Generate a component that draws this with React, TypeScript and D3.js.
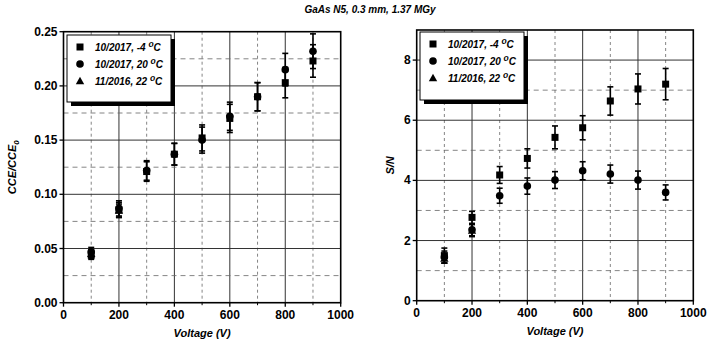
import * as d3 from 'd3';
import React from 'react';

// voltages (V)
const voltages = [100, 200, 300, 400, 500, 600, 700, 800, 900];
const voltages2016 = [100, 200];

// CCE/CCE0
const cceM4 = [0.044, 0.0855, 0.121, 0.137, 0.152, 0.170, 0.190, 0.203, 0.223];
const cceM4Err = [0.004, 0.007, 0.009, 0.010, 0.012, 0.013, 0.013, 0.014, 0.015];
const cce20 = [0.047, 0.087, 0.122, 0.137, 0.150, 0.172, 0.190, 0.215, 0.232];
const cce20Err = [0.004, 0.007, 0.009, 0.010, 0.012, 0.013, 0.013, 0.015, 0.016];
const cce22 = [0.045, 0.085];
const cce22Err = [0.004, 0.006];

// S/N
const snM4 = [1.5, 2.77, 4.18, 4.73, 5.43, 5.75, 6.64, 7.04, 7.2];
const snM4Err = [0.25, 0.2, 0.28, 0.32, 0.38, 0.4, 0.47, 0.5, 0.52];
const sn20 = [1.45, 2.36, 3.49, 3.81, 4.01, 4.32, 4.21, 4.01, 3.6];
const sn20Err = [0.2, 0.2, 0.25, 0.27, 0.28, 0.3, 0.3, 0.3, 0.25];
const sn22 = [1.4, 2.33];
const sn22Err = [0.15, 0.2];

const legendLabels = ['10/2017, -4 ', '10/2017, 20 ', '11/2016, 22 '];
const xTicks = [0, 200, 400, 600, 800, 1000];
const ccTicks = [0, 0.05, 0.1, 0.15, 0.2, 0.25];
const snTicks = [0, 2, 4, 6, 8];

const FONT = 'Arial, "Liberation Sans", sans-serif';

type Series = { xs: number[]; ys: number[]; err: number[]; shape: string };

function Marker({ shape, x, y }: { shape: string; x: number; y: number }) {
  if (shape === 'square') return <rect x={x - 3.5} y={y - 3.5} width={7} height={7} fill="#000" />;
  if (shape === 'circle') return <circle cx={x} cy={y} r={3.8} fill="#000" />;
  return <path d={`M${x},${y - 4.2}L${x + 4.2},${y + 3.2}L${x - 4.2},${y + 3.2}Z`} fill="#000" />;
}

function Panel(props: {
  left: number; right: number; top: number; bottom: number;
  yMax: number; yTicks: number[]; yMinor: number; yFmt: (v: number) => string;
  series: Series[]; yLabel: React.ReactNode; yLabelX: number;
  legend: { x: number; y: number; w: number; h: number };
}) {
  const { left, right, top, bottom, yMax, yTicks, yMinor, yFmt, series, legend } = props;
  const x = d3.scaleLinear().domain([0, 1000]).range([left, right]);
  const y = d3.scaleLinear().domain([0, yMax]).range([bottom, top]);
  const xMinor = d3.range(100, 1000, 100);
  const yMinorVals = d3.range(yMinor, yMax - 1e-9, yMinor);
  return (
    <g>
      {/* grid */}
      {xMinor.map(v => (
        <line key={'gx' + v} x1={x(v)} x2={x(v)} y1={top} y2={bottom}
          stroke={v % 200 === 0 ? '#333' : '#666'} strokeWidth={v % 200 === 0 ? 1 : 0.8}
          strokeDasharray={v % 200 === 0 ? undefined : '3,3'} />
      ))}
      {yMinorVals.map((v, i) => {
        const major = yTicks.some(t => Math.abs(t - v) < 1e-9);
        return (
          <line key={'gy' + i} x1={left} x2={right} y1={y(v)} y2={y(v)}
            stroke={major ? '#333' : '#666'} strokeWidth={major ? 1 : 0.8}
            strokeDasharray={major ? undefined : '5,4'} />
        );
      })}
      {/* data */}
      {series.map((s, si) => (
        <g key={'s' + si}>
          {s.xs.map((xv, i) => {
            const cx = x(xv), y0 = y(s.ys[i] - s.err[i]), y1 = y(s.ys[i] + s.err[i]);
            return (
              <g key={i} stroke="#000" strokeWidth={1.6}>
                <line x1={cx} x2={cx} y1={y0} y2={y1} />
                <line x1={cx - 3} x2={cx + 3} y1={y0} y2={y0} />
                <line x1={cx - 3} x2={cx + 3} y1={y1} y2={y1} />
              </g>
            );
          })}
          {s.xs.map((xv, i) => <Marker key={'m' + i} shape={s.shape} x={x(xv)} y={y(s.ys[i])} />)}
        </g>
      ))}
      {/* frame */}
      <rect x={left} y={top} width={right - left} height={bottom - top} fill="none" stroke="#000" strokeWidth={1.6} />
      {/* ticks */}
      {xTicks.map(v => (
        <g key={'xt' + v}>
          <line x1={x(v)} x2={x(v)} y1={bottom} y2={bottom + 4} stroke="#000" strokeWidth={1.3} />
          <text x={x(v)} y={bottom + 16} textAnchor="middle" fontFamily={FONT} fontSize={12} fontWeight="bold">{v}</text>
        </g>
      ))}
      {xMinor.filter(v => v % 200 !== 0).map(v => (
        <line key={'xm' + v} x1={x(v)} x2={x(v)} y1={bottom} y2={bottom + 2.5} stroke="#000" strokeWidth={1} />
      ))}
      {yTicks.map(v => (
        <g key={'yt' + v}>
          <line x1={left - 4} x2={left} y1={y(v)} y2={y(v)} stroke="#000" strokeWidth={1.3} />
          <text x={left - 6} y={y(v) + 4} textAnchor="end" fontFamily={FONT} fontSize={12} fontWeight="bold">{yFmt(v)}</text>
        </g>
      ))}
      {/* axis titles */}
      <text x={(left + right) / 2} y={bottom + 34} textAnchor="middle" fontFamily={FONT} fontSize={11}
        fontWeight="bold" fontStyle="italic">Voltage (V)</text>
      <text transform={`translate(${props.yLabelX},${(top + bottom) / 2}) rotate(-90)`} textAnchor="middle"
        fontFamily={FONT} fontSize={11} fontWeight="bold" fontStyle="italic">{props.yLabel}</text>
      {/* legend */}
      <rect x={legend.x + 4} y={legend.y + 4} width={legend.w} height={legend.h} fill="#000" />
      <rect x={legend.x} y={legend.y} width={legend.w} height={legend.h} fill="#fff" stroke="#000" strokeWidth={1} />
      {legendLabels.map((lab, i) => {
        const ly = legend.y + 12 + i * 17;
        return (
          <g key={'lg' + i}>
            <Marker shape={['square', 'circle', 'triangle'][i]} x={legend.x + 13} y={ly} />
            <text x={legend.x + 28} y={ly + 3.5} fontFamily={FONT} fontSize={10} fontWeight="bold" fontStyle="italic">
              {lab}<tspan dy={-4} fontSize={8.5}>o</tspan><tspan dy={4}>C</tspan>
            </text>
          </g>
        );
      })}
    </g>
  );
}

export default function App() {
  const leftSeries: Series[] = [
    { xs: voltages2016, ys: cce22, err: cce22Err, shape: 'triangle' },
    { xs: voltages, ys: cce20, err: cce20Err, shape: 'circle' },
    { xs: voltages, ys: cceM4, err: cceM4Err, shape: 'square' },
  ];
  const rightSeries: Series[] = [
    { xs: voltages, ys: sn20, err: sn20Err, shape: 'circle' },
    { xs: voltages2016, ys: sn22, err: sn22Err, shape: 'triangle' },
    { xs: voltages, ys: snM4, err: snM4Err, shape: 'square' },
  ];
  return (
    <svg width={710} height={345} style={{ position: 'absolute', left: 0, top: 0, background: '#fff' }}>
      <text x={370} y={13} textAnchor="middle" fontFamily={FONT} fontSize={10} fontWeight="bold" fontStyle="italic">
        GaAs N5, 0.3 mm, 1.37 MGy
      </text>
      <Panel left={63.5} right={340.7} top={31.7} bottom={302.7} yMax={0.25} yTicks={ccTicks} yMinor={0.025}
        yFmt={d3.format('.2f')} series={leftSeries} yLabelX={16}
        yLabel={<>CCE/CCE<tspan dy={3} fontSize={8}>0</tspan></>}
        legend={{ x: 67, y: 35, w: 104, h: 67 }} />
      <Panel left={416.7} right={693.3} top={30} bottom={300.7} yMax={9} yTicks={snTicks} yMinor={1}
        yFmt={d3.format('d')} series={rightSeries} yLabelX={394}
        yLabel={<>S/N</>}
        legend={{ x: 420, y: 32, w: 104, h: 68 }} />
    </svg>
  );
}
